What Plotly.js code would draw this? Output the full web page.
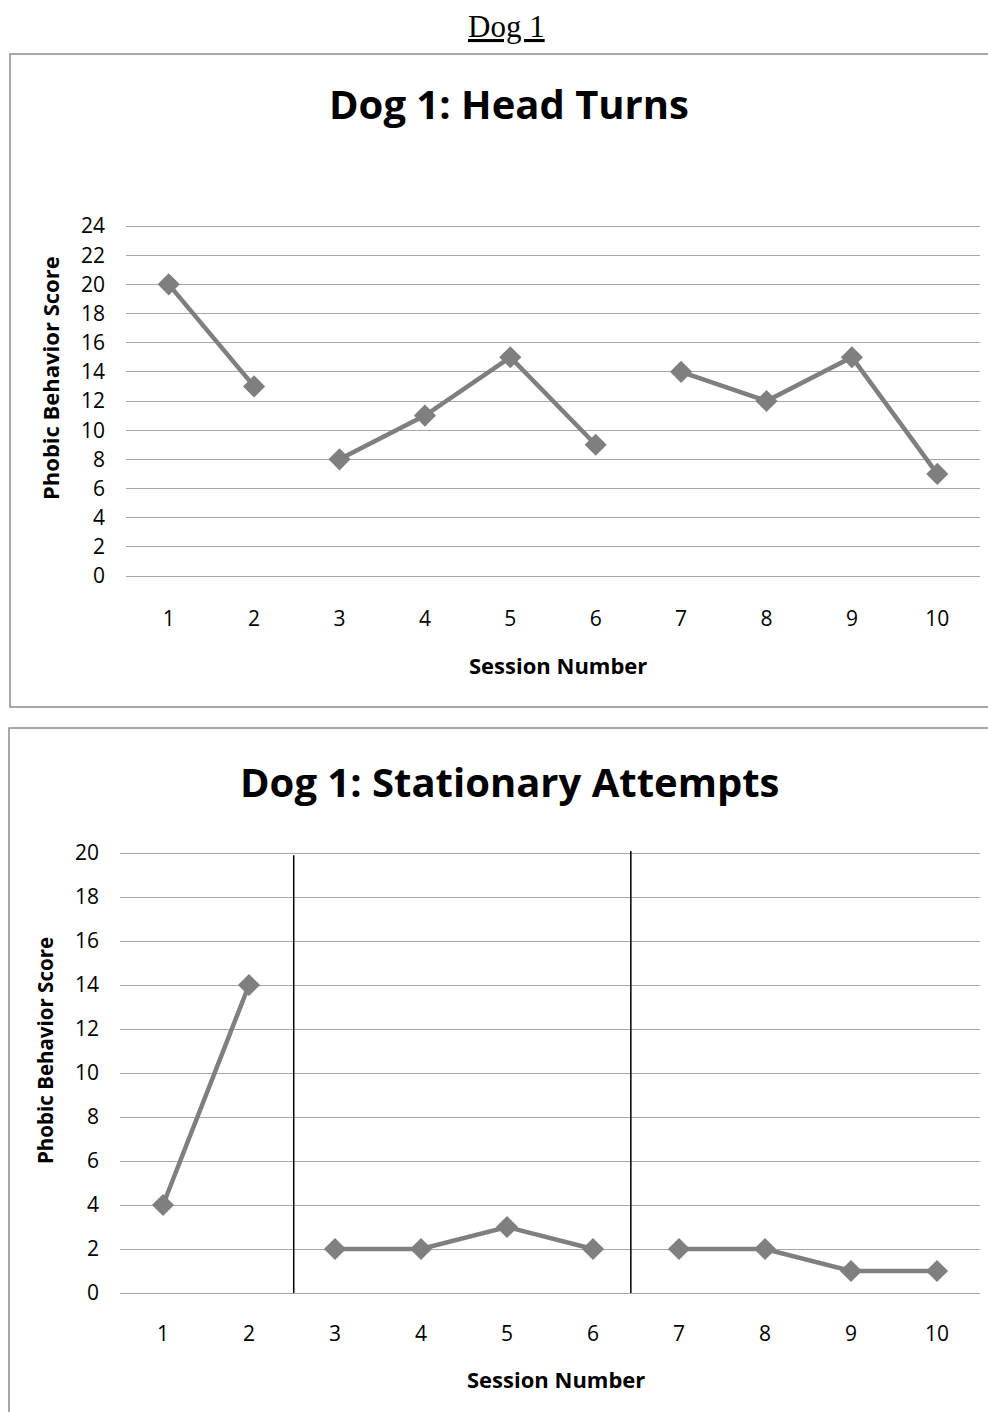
<!DOCTYPE html>
<html>
<head>
<meta charset="utf-8">
<script src="https://cdn.plot.ly/plotly-3.0.1.min.js"></script>
<style>
  html, body { margin: 0; padding: 0; background: #ffffff; }
  #chart { width: 988px; height: 1412px; }
</style>
</head>
<body>
<div id="chart"></div>
<script>
// Session numbers shared by both panels
const sessions = [1, 2, 3, 4, 5, 6, 7, 8, 9, 10];
// Phobic behavior scores per session
const headTurns = [20, 13, 8, 11, 15, 9, 14, 12, 15, 7];
const stationaryAttempts = [4, 14, 2, 2, 3, 2, 2, 2, 1, 1];
// Phases: [first session, last session]; lines are broken between phases
const phases = [[1, 2], [3, 6], [7, 10]];
// Tick labels on the y axes
const headTurnsTicks = [0, 2, 4, 6, 8, 10, 12, 14, 16, 18, 20, 22, 24];
const stationaryTicks = [0, 2, 4, 6, 8, 10, 12, 14, 16, 18, 20];

const W = 988, H = 1412;
const px = x => x / W;
const py = y => 1 - y / H;

const lineColor = '#7f7f7f';
const gridColor = '#a6a6a6';
const sans = '"Open Sans", Lato, sans-serif';

function phaseTraces(values, xa, ya) {
  return phases.map(([a, b]) => {
    const xs = sessions.filter(s => s >= a && s <= b);
    const ys = xs.map(s => values[sessions.indexOf(s)]);
    return {
      type: 'scatter', mode: 'lines+markers',
      x: xs, y: ys, xaxis: xa, yaxis: ya,
      line: { color: lineColor, width: 4.5 },
      marker: { symbol: 'diamond', size: 17, color: lineColor },
      hoverinfo: 'x+y', showlegend: false
    };
  });
}

const data = [
  ...phaseTraces(headTurns, 'x', 'y'),
  ...phaseTraces(stationaryAttempts, 'x2', 'y2')
];

const xCommon = {
  range: [0.5, 10.5], tickvals: sessions, ticktext: sessions.map(String),
  showgrid: false, zeroline: false, showline: false, ticks: '',
  tickfont: { family: sans, size: 21, color: '#000' }, fixedrange: true
};
const yCommon = {
  showgrid: true, gridcolor: gridColor, gridwidth: 1,
  zeroline: false, showline: false, ticks: '',
  tickfont: { family: sans, size: 21, color: '#000' }, fixedrange: true
};

// y ranges carry 2px of padding at each end so the first and last grid lines are kept
const layout = {
  width: W, height: H,
  margin: { l: 0, r: 0, t: 0, b: 0 },
  paper_bgcolor: '#ffffff', plot_bgcolor: 'rgba(0,0,0,0)',
  showlegend: false,
  xaxis: Object.assign({}, xCommon, {
    domain: [px(126), px(980)], anchor: 'y', ticklabelstandoff: 26
  }),
  yaxis: Object.assign({}, yCommon, {
    domain: [py(578), py(224)], anchor: 'x', range: [-2 * 24 / 350, 24 + 2 * 24 / 350],
    tickvals: headTurnsTicks, ticklabelstandoff: 20
  }),
  xaxis2: Object.assign({}, xCommon, {
    domain: [px(120), px(980)], anchor: 'y2', ticklabelstandoff: 24
  }),
  yaxis2: Object.assign({}, yCommon, {
    domain: [py(1295), py(851)], anchor: 'x2', range: [-2 * 20 / 440, 20 + 2 * 20 / 440],
    tickvals: stationaryTicks, ticklabelstandoff: 20
  }),
  shapes: [
    // panel frames
    { type: 'rect', xref: 'paper', yref: 'paper',
      x0: px(10), x1: px(1000), y0: py(707), y1: py(54),
      line: { color: '#8c8c8c', width: 1.5 } },
    { type: 'rect', xref: 'paper', yref: 'paper',
      x0: px(9), x1: px(1000), y0: py(1430), y1: py(728),
      line: { color: '#8c8c8c', width: 1.5 } },
    // phase change lines
    { type: 'line', xref: 'x2', yref: 'y2', x0: 2.52, x1: 2.52, y0: 0, y1: 19.9,
      line: { color: '#000000', width: 1.5 } },
    { type: 'line', xref: 'x2', yref: 'y2', x0: 6.44, x1: 6.44, y0: 0, y1: 20.1,
      line: { color: '#000000', width: 1.5 } }
  ],
  annotations: [
    { text: '<u>Dog 1</u>', xref: 'paper', yref: 'paper', x: px(506), y: py(27),
      xanchor: 'center', yanchor: 'middle', showarrow: false,
      font: { family: '"Liberation Serif", serif', size: 31, color: '#000' } },
    { text: '<b>Dog 1: Head Turns</b>', xref: 'paper', yref: 'paper', x: px(509), y: py(104),
      xanchor: 'center', yanchor: 'middle', showarrow: false,
      font: { family: sans, size: 40, color: '#000' } },
    { text: '<b>Phobic Behavior Score</b>', xref: 'paper', yref: 'paper', x: px(50), y: py(378),
      xanchor: 'center', yanchor: 'middle', textangle: -90, showarrow: false,
      font: { family: sans, size: 22, color: '#000' } },
    { text: '<b>Session Number</b>', xref: 'paper', yref: 'paper', x: px(558), y: py(665),
      xanchor: 'center', yanchor: 'middle', showarrow: false,
      font: { family: sans, size: 22, color: '#000' } },
    { text: '<b>Dog 1: Stationary Attempts</b>', xref: 'paper', yref: 'paper', x: px(509), y: py(782),
      xanchor: 'center', yanchor: 'middle', showarrow: false,
      font: { family: sans, size: 40, color: '#000' } },
    { text: '<b>Phobic Behavior Score</b>', xref: 'paper', yref: 'paper', x: px(45), y: py(1051),
      xanchor: 'center', yanchor: 'middle', textangle: -90, showarrow: false,
      font: { family: sans, size: 20.5, color: '#000' } },
    { text: '<b>Session Number</b>', xref: 'paper', yref: 'paper', x: px(556), y: py(1379),
      xanchor: 'center', yanchor: 'middle', showarrow: false,
      font: { family: sans, size: 22, color: '#000' } }
  ]
};

Plotly.newPlot('chart', data, layout, { staticPlot: true, displayModeBar: false });
</script>
</body>
</html>
